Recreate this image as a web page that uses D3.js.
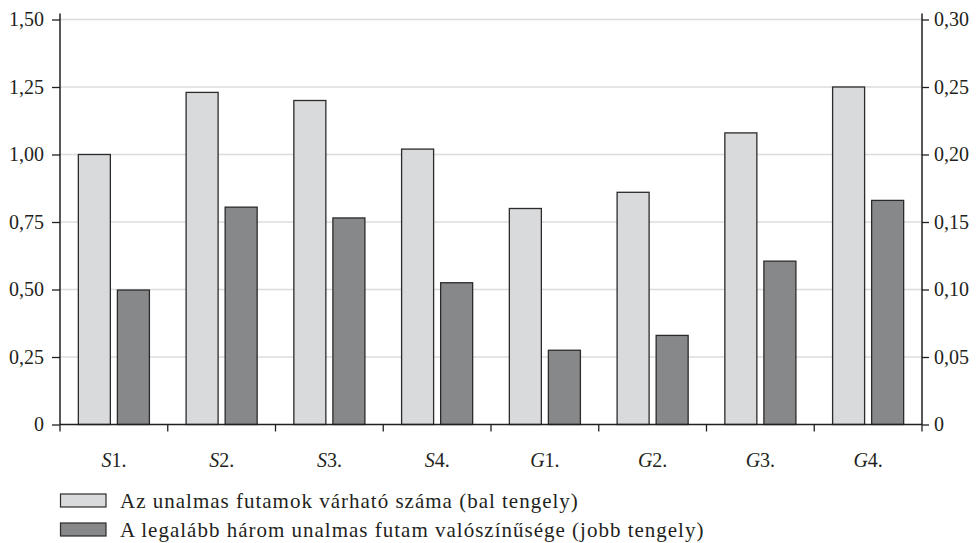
<!DOCTYPE html>
<html>
<head>
<meta charset="utf-8">
<script src="https://cdn.jsdelivr.net/npm/d3@7"></script>
<style>
  body { margin: 0; background: #fff; }
</style>
</head>
<body>
<script>
// chart data
const categories = [["S", "1."], ["S", "2."], ["S", "3."], ["S", "4."], ["G", "1."], ["G", "2."], ["G", "3."], ["G", "4."]];
const expectedRuns = [1.00, 1.23, 1.20, 1.02, 0.80, 0.86, 1.08, 1.25];   // left axis
const probAtLeast3 = [0.0996, 0.161, 0.153, 0.105, 0.055, 0.066, 0.121, 0.166]; // right axis
const leftTicks = [0, 0.25, 0.5, 0.75, 1.0, 1.25, 1.5];
const rightTicks = [0, 0.05, 0.10, 0.15, 0.20, 0.25, 0.30];
const legendLabels = [
  "Az unalmas futamok várható száma (bal tengely)",
  "A legalább három unalmas futam valószínűsége (jobb tengely)"
];

const width = 977, height = 543;
const plotL = 60, plotR = 922, plotT = 19.5, plotB = 424.5;
const lightFill = "#d9dadc", darkFill = "#87888a", edge = "#2b2b2b";
const serif = "Liberation Serif";
const ink = "#231f20";

const fmt = v => v === 0 ? "0" : v.toFixed(2).replace(".", ",");

const svg = d3.select("body").append("svg")
  .attr("width", width)
  .attr("height", height);

const keys = categories.map(c => c.join(""));
const x = d3.scaleBand().domain(keys).range([plotL, plotR]);
const inner = d3.scaleBand().domain([0, 1]).range([0, x.bandwidth()])
  .paddingInner(0.18).paddingOuter(0.47);
const yL = d3.scaleLinear().domain([0, 1.5]).range([plotB, plotT]);
const yR = d3.scaleLinear().domain([0, 0.3]).range([plotB, plotT]);

// gridlines
svg.append("g").selectAll("line")
  .data(leftTicks.filter(d => d > 0))
  .join("line")
  .attr("x1", plotL).attr("x2", plotR)
  .attr("y1", d => yL(d)).attr("y2", d => yL(d))
  .attr("stroke", "#dcdcdc").attr("stroke-width", 1.5);

// bars
const groups = svg.append("g").selectAll("g")
  .data(keys)
  .join("g")
  .attr("transform", d => `translate(${x(d)},0)`);

groups.append("rect")
  .attr("x", inner(0)).attr("width", inner.bandwidth())
  .attr("y", (d, i) => yL(expectedRuns[i]))
  .attr("height", (d, i) => plotB - yL(expectedRuns[i]))
  .attr("fill", lightFill).attr("stroke", edge).attr("stroke-width", 1.3);

groups.append("rect")
  .attr("x", inner(1)).attr("width", inner.bandwidth())
  .attr("y", (d, i) => yR(probAtLeast3[i]))
  .attr("height", (d, i) => plotB - yR(probAtLeast3[i]))
  .attr("fill", darkFill).attr("stroke", edge).attr("stroke-width", 1.3);

// axes
const leftAxis = svg.append("g")
  .attr("transform", `translate(${plotL},0)`)
  .call(d3.axisLeft(yL).tickValues(leftTicks).tickFormat(fmt).tickSize(8).tickPadding(8));
const rightAxis = svg.append("g")
  .attr("transform", `translate(${plotR},0)`)
  .call(d3.axisRight(yR).tickValues(rightTicks).tickFormat(fmt).tickSize(7).tickPadding(5));

[leftAxis, rightAxis].forEach(a => {
  a.attr("font-family", serif).attr("font-size", 20);
  a.select(".domain").attr("stroke", ink).attr("stroke-width", 1.5)
    .attr("d", `M0,${plotT - 6}V${plotB}`);
  a.selectAll(".tick line").attr("stroke", ink).attr("stroke-width", 1.3);
  a.selectAll(".tick text").attr("fill", ink).attr("dy", "0.3em");
});

// bottom axis: line plus ticks at band edges
const xb = svg.append("g");
xb.append("line")
  .attr("x1", plotL).attr("x2", plotR)
  .attr("y1", plotB).attr("y2", plotB)
  .attr("stroke", ink).attr("stroke-width", 1.5);
xb.selectAll("line.tk")
  .data(keys.map(k => x(k)).concat([plotR]))
  .join("line").attr("class", "tk")
  .attr("x1", d => d).attr("x2", d => d)
  .attr("y1", plotB).attr("y2", plotB + 7)
  .attr("stroke", ink).attr("stroke-width", 1.3);

const lab = xb.selectAll("text.cat")
  .data(categories)
  .join("text").attr("class", "cat")
  .attr("x", (d, i) => x(keys[i]) + x.bandwidth() / 2)
  .attr("y", 466.5)
  .attr("text-anchor", "middle")
  .attr("fill", ink)
  .attr("font-family", serif)
  .attr("font-size", 20);
lab.append("tspan").attr("font-style", "italic").text(d => d[0]);
lab.append("tspan").text(d => d[1]);

// legend
const legend = svg.append("g").attr("font-family", serif).attr("font-size", 21);
const legFills = [lightFill, darkFill];
legendLabels.forEach((t, i) => {
  const yy = 494 + i * 29;
  legend.append("rect")
    .attr("x", 60.5).attr("y", yy).attr("width", 45.5).attr("height", 13)
    .attr("fill", legFills[i]).attr("stroke", edge).attr("stroke-width", 1.2);
  legend.append("text")
    .attr("x", 120).attr("y", yy + 13.5)
    .attr("fill", ink)
    .attr("letter-spacing", 1)
    .text(t);
});
</script>
</body>
</html>
